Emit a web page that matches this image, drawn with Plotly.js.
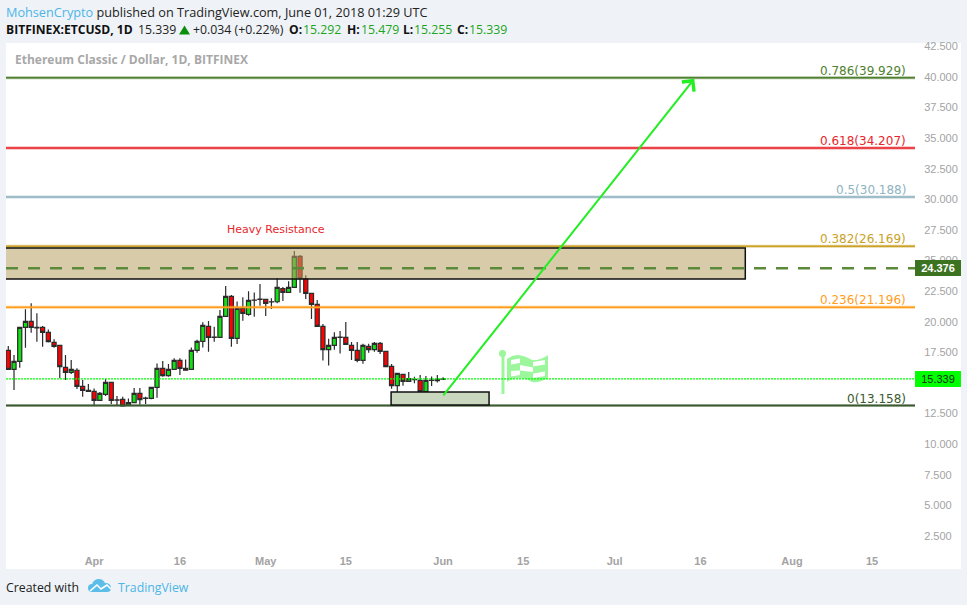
<!DOCTYPE html>
<html><head><meta charset="utf-8">
<script src="https://cdn.plot.ly/plotly-3.0.1.min.js"></script>
<style>html,body{margin:0;padding:0;background:#eff3f7}#c{width:967px;height:605px}</style>
</head><body><div id="c"></div>
<script>
const days=['03-17','03-18','03-19','03-20','03-21','03-22','03-23','03-24','03-25','03-26','03-27','03-28','03-29','03-30','03-31',
'04-01','04-02','04-03','04-04','04-05','04-06','04-07','04-08','04-09','04-10','04-11','04-12','04-13','04-14','04-15','04-16','04-17','04-18','04-19','04-20','04-21','04-22','04-23','04-24','04-25','04-26','04-27','04-28','04-29','04-30',
'05-01','05-02','05-03','05-04','05-05','05-06','05-07','05-08','05-09','05-10','05-11','05-12','05-13','05-14','05-15','05-16','05-17','05-18','05-19','05-20','05-21','05-22','05-23','05-24','05-25','05-26','05-27','05-28','05-29','05-30','05-31','06-01'];
const open=[17.67,16.12,16.77,19.55,20.04,19.55,19.55,19.14,18.32,18.08,16.28,15.87,16.04,14.73,14.40,14.32,13.58,14.07,15.05,13.62,13.67,13.17,13.39,14.16,13.74,13.74,14.65,16.20,15.60,16.12,16.85,16.20,16.12,17.67,18.40,19.63,18.73,18.73,20.45,22.08,18.65,21.10,20.61,21.78,21.83,21.83,21.64,21.64,22.71,22.41,22.82,25.35,23.52,22.33,21.43,19.63,17.72,18.08,18.73,18.73,18.08,17.67,16.85,18.00,17.72,18.24,17.59,16.36,14.78,15.71,15.14,15.28,15.22,14.29,15.22,15.30,15.292];
const high=[18.02,17.29,19.55,21.02,21.51,20.69,19.66,19.38,18.57,18.08,17.29,16.88,16.20,15.25,14.92,14.56,14.27,15.35,15.05,13.94,13.88,13.74,14.59,14.59,13.88,14.65,16.60,16.80,16.55,17.02,17.02,16.93,17.91,18.54,19.96,20.07,19.60,20.96,22.92,22.19,21.65,22.00,22.49,22.40,23.09,21.83,21.92,23.58,22.84,23.31,25.78,25.46,23.80,22.33,21.78,19.82,18.62,19.14,19.25,19.98,18.35,18.35,18.21,18.21,18.35,18.35,17.59,16.55,15.79,15.71,15.90,15.52,15.65,15.57,15.54,15.65,15.479];
const low=[16.12,14.43,16.25,17.89,19.11,18.38,17.97,18.30,17.89,15.38,15.25,15.74,14.51,13.88,14.29,13.20,13.58,13.94,13.29,13.20,13.07,13.17,13.39,13.23,13.29,13.67,13.80,15.52,15.52,16.12,15.65,16.00,16.12,17.48,17.91,17.56,18.38,18.73,20.45,17.97,18.19,20.09,20.50,20.42,21.32,20.47,21.05,21.51,21.70,22.41,22.82,22.38,21.86,20.23,19.63,16.83,16.42,17.72,17.40,18.10,16.88,16.69,16.58,17.48,17.56,17.37,16.33,14.54,14.24,14.78,15.14,14.97,14.27,14.13,14.75,15.05,15.255];
const close=[16.12,16.77,19.55,20.04,19.55,19.50,19.14,18.38,18.00,16.34,15.87,16.12,14.73,14.40,14.32,13.58,14.16,15.05,13.58,13.60,13.12,13.39,14.16,13.64,13.76,14.65,16.20,15.60,16.12,16.85,16.20,16.04,17.67,18.40,19.71,18.73,18.75,20.45,22.08,18.65,21.10,20.69,21.75,21.76,21.85,21.51,21.62,22.82,22.41,22.82,25.35,23.52,22.33,21.43,19.63,17.72,18.08,18.73,18.75,18.16,17.67,16.85,18.08,17.72,18.24,17.59,16.33,14.78,15.79,15.14,15.35,15.30,14.29,15.22,15.23,15.19,15.339];
const fibValues=[39.929,34.207,30.188,26.169,21.196,13.158];
const fibLabels=['0.786(39.929)','0.618(34.207)','0.5(30.188)','0.382(26.169)','0.236(21.196)','0(13.158)'];
const fibColors=['#4f7f2f','#e8262a','#8fb3bf','#c9a227','#ff9d1c','#3c5a30'];
const yTicks=[2.5,5,7.5,10,12.5,17.5,20,22.5,25,27.5,30,32.5,35,37.5,40,42.5];
const xTickDates=['2018-04-01','2018-04-16','2018-05-01','2018-05-15','2018-06-01','2018-06-15','2018-07-01','2018-07-16','2018-08-01','2018-08-15'];
const xTickLabels=['Apr','16','May','15','Jun','15','Jul','16','Aug','15'];
const resistance={x0:'2018-03-16',x1:'2018-07-23 20:00',y0:23.5,y1:26.03,dashed:24.376,label:'Heavy Resistance'};
const support={x0:'2018-05-22 22:00',x1:'2018-06-09 01:00',y0:13.2,y1:14.27};
const lastPrice=15.339;
const arrow={x0:'2018-05-31 20:00',y0:13.86,x1:'2018-07-14 22:00',y1:39.85};

const L=6,R=915,T=43,B=550;
const px=v=>(v-L)/(R-L), py=v=>(B-v)/(B-T);
const xStart='2018-03-16 14:24', xEnd='2018-08-22 12:00';
const font='"DejaVu Sans",sans-serif', sans='"Open Sans",sans-serif', arial='"Liberation Sans",sans-serif';

const shapes=[{type:'rect',xref:'paper',yref:'paper',x0:px(6),x1:px(961),y0:py(43),y1:py(569),fillcolor:'#fff',line:{width:0},layer:'below'}];
const P=(a)=>a.map(([c,x,y])=>c+' '+px(x)+' '+py(y)).join(' ');
const poly=(pts,fill)=>({type:'path',xref:'paper',yref:'paper',fillcolor:fill,line:{width:0},path:'M '+pts.map(([x,y])=>px(x)+' '+py(y)).join(' L ')+' Z'});
// flag icon
const flag='#9cf79c';
shapes.push(poly([[501.5,354],[504.5,354],[504.5,394],[501.5,394]],flag));
shapes.push({type:'circle',xref:'paper',yref:'paper',x0:px(499),x1:px(506),y0:py(357),y1:py(350),fillcolor:flag,line:{width:0}});
shapes.push({type:'path',xref:'paper',yref:'paper',fillcolor:flag,line:{width:0},path:P([['M',507,359],['Q',512,355],['',518,355],['Q',526,356],['',532,360],['Q',540,361],['',548,355],['L',548,378],['Q',540,383],['',532,382],['Q',526,378],['',518,378],['Q',512,378],['',507,382]])+' Z'});
[[[511,360],[520,358.5],[520,363],[511,364.5]],[[533,362],[545,360],[545,364.5],[533,366.5]],[[520,365],[533,367.5],[533,372],[520,370.5]],[[511,371],[520,370.5],[520,375],[511,376.5]],[[533,373.5],[545,371.5],[545,376],[533,378]]].forEach(q=>shapes.push(poly(q,'#fff')));
fibValues.forEach((v,i)=>{
  shapes.push({type:'line',xref:'paper',yref:'y',x0:0,x1:1,y0:v,y1:v,line:{color:fibColors[i],width:3},opacity:.45});
  shapes.push({type:'line',xref:'paper',yref:'y',x0:0,x1:1,y0:v,y1:v,line:{color:fibColors[i],width:1.5}});
});
shapes.push({type:'rect',xref:'x',yref:'y',x0:resistance.x0,x1:resistance.x1,y0:resistance.y0,y1:resistance.y1,fillcolor:'rgba(184,160,100,0.55)',line:{color:'#111',width:1.5}});
shapes.push({type:'line',xref:'paper',yref:'y',x0:0,x1:1,y0:resistance.dashed,y1:resistance.dashed,line:{color:'#5b8a3a',width:2.5,dash:'12px,10px'}});
shapes.push({type:'rect',xref:'x',yref:'y',x0:support.x0,x1:support.x1,y0:support.y0,y1:support.y1,fillcolor:'#c8d7bd',line:{color:'#111',width:1.5}});
shapes.push({type:'line',xref:'paper',yref:'y',x0:0,x1:1,y0:lastPrice,y1:lastPrice,line:{color:'#00ff00',width:1.2,dash:'2px,1px'}});
// header triangle
shapes.push(poly([[179,34.5],[190,34.5],[184.5,25.5]],'#0a8f0a'));
// TradingView logo
const logo='#5cbde8';
shapes.push({type:'path',xref:'paper',yref:'paper',fillcolor:logo,line:{width:0},
  path:P([['M',88,588],['Q',88,584],['',92,584],['Q',94,579],['',99,579],['Q',103,579],['',105,583],['Q',111,583],['',111,588],['Q',111,592],['',107,592],['L',92,592],['Q',88,592],['',88,588]])+' Z'});
shapes.push({type:'path',xref:'paper',yref:'paper',line:{color:'#fff',width:1.6},fillcolor:'rgba(0,0,0,0)',path:P([['M',90,591],['L',97,585],['L',101,589],['L',107,585],['L',111,589]])});

const ann=[];
const A=(o)=>ann.push(Object.assign({showarrow:false,xref:'paper',yref:'paper',xanchor:'left',yanchor:'middle',borderpad:0,borderwidth:0},o));
fibValues.forEach((v,i)=>A({x:px(906),y:v,yref:'y',yanchor:'bottom',xanchor:'right',text:fibLabels[i],font:{family:font,size:12,color:fibColors[i]}}));
A({x:px(15),y:py(60),text:'<b>Ethereum Classic / Dollar, 1D, BITFINEX</b>',font:{family:sans,size:12,color:'#a8a8a8'}});
A({x:px(275.5),y:py(229),xanchor:'center',text:resistance.label,font:{family:font,size:11,color:'#e8262a'}});
A({x:px(6),y:py(11.5),text:'<span style="color:#4db5e8">MohsenCrypto</span> published on TradingView.com, June 01, 2018 01:29 UTC',font:{family:sans,size:12.7,color:'#222'}});
const greenVal='#1aa51a',dark='#111';
A({x:px(6),y:py(29.5),text:'<b>BITFINEX:ETCUSD, 1D</b>',font:{family:sans,size:12.1,color:dark}});
A({x:px(138),y:py(29.5),text:'15.339',font:{family:sans,size:12.3,color:'#222'}});
A({x:px(193),y:py(29.5),text:'+0.034 (+0.22%)',font:{family:sans,size:12.3,color:'#222'}});
[['O:',289,'15.292',303],['H:',347,'15.479',361],['L:',403,'15.255',414],['C:',457,'15.339',469]].forEach(([k,kx,val,vx])=>{
  A({x:px(kx),y:py(29.5),text:'<b>'+k+'</b>',font:{family:sans,size:12.1,color:dark}});
  A({x:px(vx),y:py(29.5),text:val,font:{family:sans,size:12.3,color:greenVal}});
});
A({x:px(6),y:py(587),text:'Created with',font:{family:sans,size:12.3,color:'#222'}});
A({x:px(118),y:py(587),text:'TradingView',font:{family:sans,size:12.3,color:'#4db5e8'}});
A({x:px(915),y:resistance.dashed,yref:'y',xanchor:'left',width:46,height:16,bgcolor:'#3c7320',align:'center',text:'<b>24.376</b>',font:{family:arial,size:11,color:'#fff'}});
A({x:px(915),y:lastPrice,yref:'y',xanchor:'left',width:46,height:16,bgcolor:'#00ff00',align:'center',text:'15.339',font:{family:arial,size:11,color:'#143014'}});
ann.push({xref:'x',yref:'y',axref:'x',ayref:'y',x:arrow.x1,y:arrow.y1,ax:arrow.x0,ay:arrow.y0,showarrow:true,text:'',arrowhead:4,arrowsize:1.5,arrowwidth:2,arrowcolor:'#22ee22'});

const trace={type:'candlestick',x:days.map(d=>'2018-'+d),open,high,low,close,
  increasing:{line:{color:'#2b2b2b',width:1.2},fillcolor:'#12e012'},
  decreasing:{line:{color:'#2b2b2b',width:1.2},fillcolor:'#ff0000'},hoverinfo:'skip',whiskerwidth:0};
Plotly.newPlot('c',[trace],{
  width:967,height:605,margin:{l:L,r:967-R,t:T,b:605-B},
  paper_bgcolor:'#eff3f7',plot_bgcolor:'#fff',showlegend:false,dragmode:false,
  xaxis:{type:'date',range:[xStart,xEnd],rangeslider:{visible:false},tickmode:'array',tickvals:xTickDates,ticktext:xTickLabels,showgrid:false,zeroline:false,showline:false,ticks:'outside',ticklen:1,tickcolor:'rgba(0,0,0,0)',tickfont:{family:arial,size:11,color:'#a3a3a3',weight:700}},
  yaxis:{side:'right',range:[40-(B-77)/12.24,40+(77-T)/12.24],tickmode:'array',tickvals:yTicks,tickformat:'.3f',showgrid:false,zeroline:false,showline:false,ticks:'outside',ticklen:6,tickcolor:'rgba(0,0,0,0)',tickfont:{family:arial,size:11,color:'#a3a3a3'}},
  boxgap:.2,boxgroupgap:.1,shapes,annotations:ann
},{displayModeBar:false,staticPlot:true});
</script></body></html>
